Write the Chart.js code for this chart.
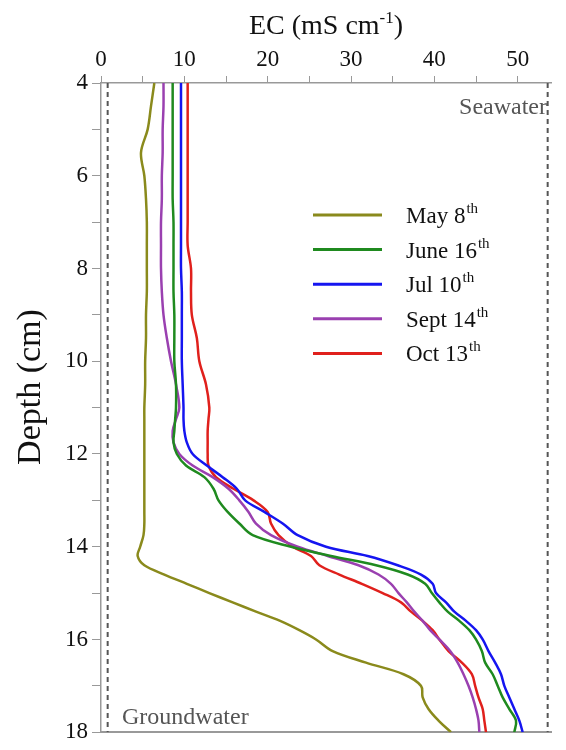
<!DOCTYPE html>
<html>
<head>
<meta charset="utf-8">
<script src="https://cdn.jsdelivr.net/npm/chart.js@4.4.1/dist/chart.umd.min.js"></script>
<style>
  html, body { margin: 0; padding: 0; background: #fff; }
  #wrap { position: relative; width: 566px; height: 750px; }
</style>
</head>
<body>
<div id="wrap"><canvas id="ecChart"></canvas></div>
<script>
// depth grid (cm) shared by all profiles
const depths = [4, 4.5, 5, 5.5, 6, 6.5, 7, 7.5, 8, 8.5, 9, 9.5, 10, 10.5, 11, 11.25, 11.5, 11.75,
  12, 12.25, 12.5, 12.75, 13, 13.25, 13.5, 13.75, 14, 14.2, 14.4, 14.6, 14.8, 15, 15.2, 15.4,
  15.6, 15.8, 16, 16.25, 16.5, 16.75, 17, 17.25, 17.5, 17.75, 18];

// EC (mS/cm)
const may8 = [6.4, 6.0, 5.6, 4.8, 5.2, 5.4, 5.5, 5.5, 5.5, 5.5, 5.4, 5.4, 5.3, 5.3, 5.2, 5.2, 5.2, 5.2,
  5.2, 5.2, 5.2, 5.2, 5.2, 5.2, 5.2, 5.1, 4.7, 4.4, 5.2, 7.6, 10.3, 13.0, 15.8, 18.6,
  21.5, 23.8, 25.8, 27.8, 31.8, 36.3, 38.4, 38.6, 39.3, 40.5, 42.0];
const june16 = [8.6, 8.6, 8.6, 8.6, 8.6, 8.6, 8.7, 8.7, 8.7, 8.7, 8.8, 8.8, 8.8, 9.0, 9.0, 8.9, 8.8, 8.7,
  9.1, 10.2, 12.4, 13.5, 14.1, 15.2, 16.6, 18.2, 22.8, 27.6, 33.0, 36.8, 38.9, 39.7, 40.6, 41.6,
  43.0, 44.2, 45.0, 45.7, 46.1, 47.0, 47.6, 48.2, 49.0, 49.8, 49.6];
const jul10 = [9.6, 9.6, 9.6, 9.6, 9.6, 9.6, 9.6, 9.6, 9.6, 9.7, 9.7, 9.7, 9.7, 9.8, 9.9, 9.9, 10.0, 10.3,
  11.0, 12.7, 14.6, 16.3, 17.3, 19.6, 21.8, 23.6, 27.0, 32.0, 35.6, 38.4, 39.8, 40.2, 41.4, 42.4,
  43.8, 45.0, 45.8, 46.5, 47.3, 48.0, 48.4, 49.0, 49.6, 50.2, 50.6];
const sept14 = [7.5, 7.5, 7.4, 7.4, 7.3, 7.3, 7.2, 7.2, 7.2, 7.3, 7.5, 7.9, 8.4, 9.0, 9.4, 9.0, 8.6, 8.7,
  9.4, 11.0, 13.4, 15.3, 16.6, 17.7, 18.6, 20.4, 23.6, 27.2, 30.9, 33.3, 34.8, 35.7, 36.7, 37.6,
  38.6, 39.5, 40.6, 41.9, 42.8, 43.5, 44.1, 44.6, 45.0, 45.3, 45.4];
const oct13 = [10.4, 10.4, 10.4, 10.4, 10.4, 10.4, 10.4, 10.4, 10.8, 10.8, 10.9, 11.5, 11.8, 12.6, 13.0, 12.9, 12.8, 12.8,
  12.8, 12.9, 13.8, 15.9, 18.3, 20.0, 20.4, 21.3, 23.0, 25.2, 26.2, 28.6, 31.3, 33.8, 36.0, 37.2,
  38.6, 39.8, 40.6, 41.7, 43.3, 44.5, 44.9, 45.3, 45.8, 46.0, 46.2];

const seriesNames = ['May 8', 'June 16', 'Jul 10', 'Sept 14', 'Oct 13'];
const seriesValues = [may8, june16, jul10, sept14, oct13];
const seriesColors = ['#8a8a1c', '#1f8a1f', '#1515f0', '#9a40b0', '#e0201c'];

// reference end-members (dashed lines)
const groundwaterEC = 0.8;
const seawaterEC = 53.6;

const SERIF = "'Liberation Serif', 'Times New Roman', serif";
const AXIS_GRAY = '#999';

function profile(values) {
  return depths.map((d, i) => ({ x: values[i], y: d }));
}

const datasets = seriesValues.map((vals, i) => ({
  label: seriesNames[i],
  data: profile(vals),
  borderColor: seriesColors[i],
  borderWidth: 2.5,
  pointRadius: 0,
  showLine: true,
  tension: 0.35
}));

[groundwaterEC, seawaterEC].forEach(v => {
  datasets.push({
    label: 'ref',
    data: [{ x: v, y: depths[0] }, { x: v, y: depths[depths.length - 1] }],
    borderColor: '#555',
    borderWidth: 2,
    borderDash: [5, 4],
    pointRadius: 0,
    showLine: true
  });
});

// extra text: axis titles (superscript), end-member labels, legend
const textPlugin = {
  id: 'texts',
  afterDraw(chart) {
    const ctx = chart.ctx;
    const area = chart.chartArea;
    ctx.save();
    ctx.fillStyle = '#111';
    ctx.textBaseline = 'alphabetic';

    // top title
    const main = 'EC (mS cm', sup = '-1', tail = ')';
    ctx.font = '28px ' + SERIF;
    const w1 = ctx.measureText(main).width, w3 = ctx.measureText(tail).width;
    ctx.font = '17px ' + SERIF;
    const w2 = ctx.measureText(sup).width;
    let x = (area.left + area.right) / 2 - (w1 + w2 + w3) / 2;
    const by = 34;
    ctx.font = '28px ' + SERIF;
    ctx.fillText(main, x, by);
    ctx.font = '17px ' + SERIF;
    ctx.fillText(sup, x + w1, by - 11);
    ctx.font = '28px ' + SERIF;
    ctx.fillText(tail, x + w1 + w2, by);

    // left title
    ctx.save();
    ctx.translate(31, 387);
    ctx.rotate(-Math.PI / 2);
    ctx.textAlign = 'center';
    ctx.textBaseline = 'middle';
    ctx.font = '34px ' + SERIF;
    ctx.fillText('Depth (cm)', 0, 0);
    ctx.restore();

    // end-member labels
    ctx.fillStyle = '#555';
    ctx.font = '24px ' + SERIF;
    ctx.textAlign = 'right';
    ctx.fillText('Seawater', area.right - 4, 114);
    ctx.textAlign = 'left';
    ctx.fillText('Groundwater', 122, 724);

    // legend
    ctx.fillStyle = '#111';
    seriesNames.forEach((name, i) => {
      const y = 215 + i * 34.6;
      ctx.strokeStyle = seriesColors[i];
      ctx.lineWidth = 3;
      ctx.beginPath();
      ctx.moveTo(313, y);
      ctx.lineTo(382, y);
      ctx.stroke();
      ctx.font = '23px ' + SERIF;
      ctx.fillText(name, 406, y + 8);
      const nw = ctx.measureText(name).width;
      ctx.font = '15px ' + SERIF;
      ctx.fillText('th', 406 + nw + 1, y - 2);
    });
    ctx.restore();
  }
};

new Chart(document.getElementById('ecChart'), {
  type: 'scatter',
  data: { datasets: datasets },
  plugins: [textPlugin],
  options: {
    responsive: true,
    maintainAspectRatio: false,
    animation: false,
    layout: { padding: { top: 0, left: 0, right: 15, bottom: 14 } },
    plugins: {
      legend: { display: false },
      tooltip: { enabled: false }
    },
    scales: {
      x: {
        type: 'linear',
        position: 'top',
        min: 0,
        max: 54,
        afterFit: s => { s.height = 83; },
        ticks: {
          stepSize: 5,
          includeBounds: false,
          padding: 2,
          color: '#111',
          font: { family: SERIF, size: 23 },
          callback: v => (v % 10 === 0 ? v : '')
        },
        grid: { drawOnChartArea: false, tickLength: 7, color: AXIS_GRAY },
        border: { color: AXIS_GRAY, width: 1.5 }
      },
      xb: {
        type: 'linear',
        position: 'bottom',
        min: 0,
        max: 54,
        afterFit: s => { s.height = 0; },
        ticks: { display: false },
        grid: { display: false },
        border: { color: AXIS_GRAY, width: 2 }
      },
      y: {
        type: 'linear',
        reverse: true,
        min: 4,
        max: 18,
        afterFit: s => { s.width = 101; },
        ticks: {
          stepSize: 1,
          padding: 4,
          color: '#111',
          font: { family: SERIF, size: 23 },
          callback: v => (v % 2 === 0 ? v : '')
        },
        grid: { drawOnChartArea: false, tickLength: 9, color: AXIS_GRAY },
        border: { color: AXIS_GRAY, width: 1.5 }
      }
    }
  }
});
</script>
</body>
</html>
